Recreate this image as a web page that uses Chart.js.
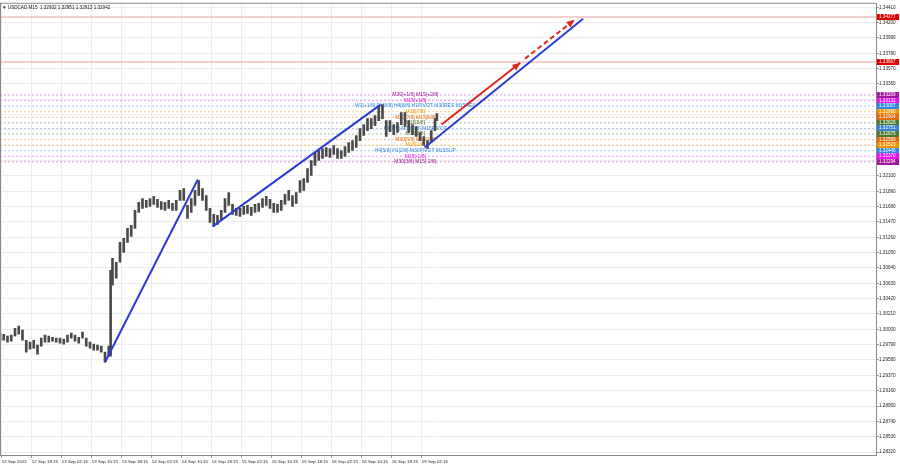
<!DOCTYPE html>
<html><head><meta charset="utf-8">
<script src="https://cdn.jsdelivr.net/npm/chart.js@4.4.0/dist/chart.umd.min.js"></script>
<style>html,body{margin:0;padding:0;background:#fff;}canvas{display:block;}</style>
</head><body>
<canvas id="c" width="900" height="468"></canvas>
<script>
// ---- data ----
const chartTitle = "\u25BC USDCAD,M15  1.32932 1.32951 1.32913 1.32942";
const timeLabels = ["12 Sep 2022","12 Sep 18:15","13 Sep 02:15","13 Sep 10:15","13 Sep 18:15","14 Sep 02:15","14 Sep 10:15","14 Sep 18:15","15 Sep 02:15","15 Sep 10:15","15 Sep 18:15","16 Sep 02:15","16 Sep 10:15","16 Sep 18:15","19 Sep 02:15"];
const timeTickBars = [2,34,66,98,130,162,194,226,258,290,322,354,386,418,450];
const priceTicks = [1.28320,1.28530,1.28740,1.28950,1.29160,1.29370,1.29580,1.29790,1.30000,1.30210,1.30420,1.30630,1.30840,1.31050,1.31260,1.31470,1.31680,1.31890,1.32100,1.32310,1.32520,1.32730,1.32940,1.33150,1.33360,1.33570,1.33780,1.33990,1.34200,1.34410];

const barIndex = [0,4,8,12,16,20,24,28,32,36,40,44,48,52,56,60,64,68,72,76,80,84,88,92,96,100,104,108,112,116,118,120,124,128,132,136,140,144,148,152,156,160,164,168,172,176,180,184,188,192,196,200,204,208,212,216,220,224,228,232,236,240,244,248,252,256,260,264,268,272,276,280,284,288,292,296,300,304,308,312,316,320,324,328,332,336,340,344,348,352,356,360,364,368,372,376,380,384,388,392,396,400,404,408,412,416,420,424,428,432,436,440,444,448,452,456,460,464,466];
const barHigh = [1.29947,1.29933,1.29906,1.29920,1.30015,1.30043,1.29988,1.29851,1.29824,1.29851,1.29783,1.29879,1.29920,1.29906,1.29892,1.29879,1.29879,1.29865,1.29920,1.29947,1.29920,1.29892,1.29961,1.29879,1.29824,1.29797,1.29783,1.29769,1.29687,1.29769,1.30808,1.30972,1.30918,1.31191,1.31246,1.31382,1.31423,1.31628,1.31738,1.31792,1.31765,1.31792,1.31820,1.31780,1.31751,1.31738,1.31765,1.31724,1.31765,1.31902,1.31929,1.31697,1.31792,1.31902,1.32038,1.31929,1.31833,1.31656,1.31574,1.31560,1.31628,1.31792,1.31874,1.31710,1.31656,1.31656,1.31683,1.31697,1.31669,1.31710,1.31724,1.31792,1.31820,1.31780,1.31724,1.31710,1.31765,1.31847,1.31902,1.31833,1.31874,1.32038,1.32066,1.32202,1.32312,1.32421,1.32449,1.32476,1.32490,1.32476,1.32517,1.32476,1.32449,1.32503,1.32558,1.32585,1.32654,1.32749,1.32804,1.32886,1.32886,1.32927,1.33050,1.33077,1.32859,1.32859,1.32804,1.32831,1.32968,1.32968,1.32859,1.32804,1.32777,1.32695,1.32640,1.32585,1.32722,1.32886,1.32954];
const barLow = [1.29851,1.29851,1.29824,1.29838,1.29906,1.29933,1.29851,1.29687,1.29728,1.29742,1.29660,1.29769,1.29824,1.29824,1.29838,1.29824,1.29810,1.29797,1.29824,1.29879,1.29838,1.29810,1.29879,1.29769,1.29742,1.29715,1.29715,1.29687,1.29550,1.29633,1.29633,1.30603,1.30699,1.30918,1.31054,1.31191,1.31273,1.31382,1.31601,1.31656,1.31669,1.31683,1.31710,1.31669,1.31642,1.31628,1.31656,1.31628,1.31628,1.31765,1.31765,1.31519,1.31601,1.31697,1.31833,1.31765,1.31628,1.31464,1.31410,1.31437,1.31492,1.31601,1.31697,1.31574,1.31560,1.31546,1.31574,1.31587,1.31560,1.31601,1.31615,1.31669,1.31697,1.31656,1.31601,1.31601,1.31628,1.31710,1.31765,1.31683,1.31724,1.31874,1.31902,1.32011,1.32107,1.32243,1.32312,1.32339,1.32367,1.32353,1.32394,1.32339,1.32339,1.32367,1.32421,1.32449,1.32490,1.32585,1.32654,1.32722,1.32749,1.32790,1.32859,1.32886,1.32640,1.32708,1.32667,1.32695,1.32804,1.32777,1.32695,1.32667,1.32640,1.32585,1.32517,1.32476,1.32558,1.32722,1.32859];

// trend lines (bar index, price)
const trendABars = [112, 211];   const trendAPrices = [1.29550, 1.32052];
const trendBBars = [227, 406];   const trendBPrices = [1.31410, 1.33077];
const trendCBars = [453, 622];   const trendCPrices = [1.32490, 1.34253];
const arrowSolidBars = [471, 555];  const arrowSolidPrices = [1.32804, 1.33651];
const arrowDashBars = [560, 613];   const arrowDashPrices = [1.33706, 1.34239];

// horizontal levels
const redLevels = [1.34277, 1.33667];
const levelPrices = [1.33209,1.33132,1.33057,1.32980,1.32904,1.32828,1.32751,1.32675,1.32599,1.32523,1.32446,1.32370,1.32294];
const levelTexts = ["M30[+1/8] M15[+2/8]","M15[+1/8]","W1[+1/8] D1[8/8] H4[8/8] H1PIVOT M30RES M15RES","M15[7/8]","M30[7/8] M15[6/8]","M15[5/8]","H1[3/8] M30[6/8] M15PIVOT","M15[3/8]","M30[5/8] M15[2/8]","M15[1/8]","H4[5/8] H1[2/8] M30PIVOT M15SUP","M15[-1/8]","M30[3/8] M15[-2/8]"];
const levelColors = ["#a0189c","#e614e6","#2f8ae0","#f39200","#e06c10","#4f7a2c","#3b82d0","#4f7a2c","#e06c10","#f39200","#2f8ae0","#e614e6","#a0189c"];
const levelTextBar = 443;

// ---- chart ----
const FONT = '"Liberation Sans", "DejaVu Sans", sans-serif';
const X_MAX = 935.5, Y_MIN = 1.28279, Y_MAX = 1.34472;

function fade(hex, a) {
  const n = parseInt(hex.slice(1), 16);
  return 'rgba(' + (n >> 16) + ',' + ((n >> 8) & 255) + ',' + (n & 255) + ',' + a + ')';
}
const datasets = [];
function lineDs(bars, prices, color, width, dash, order, extra) {
  return Object.assign({
    type: 'line', data: bars.map((b, k) => ({x: b, y: prices[k]})),
    borderColor: color, backgroundColor: color, borderWidth: width, borderDash: dash,
    pointRadius: 0, fill: false, tension: 0, order: order
  }, extra || {});
}
datasets.push(lineDs(trendABars, trendAPrices, '#2a3cd6', 2, [], 0));
datasets.push(lineDs(trendBBars, trendBPrices, '#2a3cd6', 2, [], 0));
datasets.push(lineDs(trendCBars, trendCPrices, '#2a3cd6', 2, [], 0));
datasets.push(lineDs(arrowSolidBars, arrowSolidPrices, '#e32222', 2, [], 0, {arrowHead: true}));
datasets.push(lineDs(arrowDashBars, arrowDashPrices, '#e32222', 2, [5, 3], 0, {arrowHead: true}));
datasets.push({
  type: 'bar', data: barIndex.map((b, k) => ({x: b, y: [barLow[k], barHigh[k]]})),
  backgroundColor: '#4a4a4a', borderWidth: 0, barThickness: 2, order: 1
});
levelPrices.forEach((p, k) => datasets.push(lineDs([0, X_MAX], [p, p], fade(levelColors[k], 0.45), 1, [2, 2], 2)));

const overlay = {
  id: 'overlay',
  beforeDatasetsDraw(chart) {
    const {ctx, chartArea: a, scales: {x, y}} = chart;
    ctx.save();
    // red resistance lines
    ctx.fillStyle = '#eba0a0';
    redLevels.forEach(p => {
      const yp = Math.round(y.getPixelForValue(p));
      ctx.fillRect(a.left, yp - 0.5, a.right - a.left, 1);
    });
    ctx.font = '5px ' + FONT;
    ctx.textAlign = 'center'; ctx.textBaseline = 'middle';
    levelPrices.forEach((p, k) => {
      ctx.fillStyle = levelColors[k];
      ctx.fillText(levelTexts[k], x.getPixelForValue(levelTextBar), y.getPixelForValue(p));
    });
    ctx.restore();
  },
  afterDatasetsDraw(chart) {
    const ctx = chart.ctx;
    chart.data.datasets.forEach((ds, di) => {
      if (!ds.arrowHead) return;
      const pts = chart.getDatasetMeta(di).data;
      const a = pts[pts.length - 2], b = pts[pts.length - 1];
      const ang = Math.atan2(b.y - a.y, b.x - a.x);
      const L = 8, W = 3.5;
      ctx.save();
      ctx.fillStyle = ds.borderColor;
      ctx.beginPath();
      ctx.moveTo(b.x, b.y);
      ctx.lineTo(b.x - L * Math.cos(ang) + W * Math.sin(ang), b.y - L * Math.sin(ang) - W * Math.cos(ang));
      ctx.lineTo(b.x - L * Math.cos(ang) - W * Math.sin(ang), b.y - L * Math.sin(ang) + W * Math.cos(ang));
      ctx.closePath(); ctx.fill();
      ctx.restore();
    });
  },
  afterDraw(chart) {
    const {ctx, chartArea: a, scales: {y}} = chart;
    ctx.save();
    ctx.strokeStyle = '#8a8a8a'; ctx.lineWidth = 1;
    ctx.strokeRect(a.left + 0.5, a.top + 0.5, a.right - a.left - 1, a.bottom - a.top);
    ctx.fillStyle = '#111'; ctx.font = '4.6px ' + FONT;
    ctx.textAlign = 'left'; ctx.textBaseline = 'middle';
    ctx.fillText(chartTitle, a.left + 2, a.top + 5);
    const tag = (p, col) => {
      const yp = y.getPixelForValue(p);
      ctx.fillStyle = col;
      ctx.fillRect(a.right, Math.round(yp) - 3, 22, 6);
      ctx.fillStyle = '#fff';
      ctx.font = '4.6px ' + FONT;
      ctx.fillText(p.toFixed(5), a.right + 2, Math.round(yp) + 0.2);
    };
    redLevels.forEach(p => tag(p, '#e00000'));
    levelPrices.forEach((p, k) => tag(p, levelColors[k]));
    ctx.restore();
  }
};

new Chart(document.getElementById('c'), {
  type: 'line',
  data: {datasets},
  options: {
    responsive: false, animation: false, devicePixelRatio: 1,
    layout: {padding: {left: 0, top: 2, right: 0, bottom: 0}},
    plugins: {legend: {display: false}, tooltip: {enabled: false}},
    scales: {
      x: {
        type: 'linear', min: 0, max: X_MAX, offset: false,
        afterBuildTicks: s => { s.ticks = timeTickBars.map(v => ({value: v})); },
        afterFit: s => { s.height = 13; },
        ticks: {
          autoSkip: false, maxRotation: 0, align: 'start', padding: 1,
          color: '#222', font: {size: 4.4, family: FONT},
          callback: (v, i) => timeLabels[i]
        },
        grid: {color: '#ececec', offset: false, tickLength: 3, tickColor: '#999'},
        border: {display: false}
      },
      y: {
        type: 'linear', position: 'right', min: Y_MIN, max: Y_MAX, beginAtZero: false,
        afterBuildTicks: s => { s.ticks = priceTicks.map(v => ({value: v})); },
        afterFit: s => { s.width = 23; },
        ticks: {
          padding: 0, color: '#222', font: {size: 4.6, family: FONT},
          callback: v => Number(v).toFixed(5)
        },
        grid: {color: '#ececec', tickLength: 2, tickColor: '#999'},
        border: {display: false}
      }
    }
  },
  plugins: [overlay]
});
</script>
</body></html>
